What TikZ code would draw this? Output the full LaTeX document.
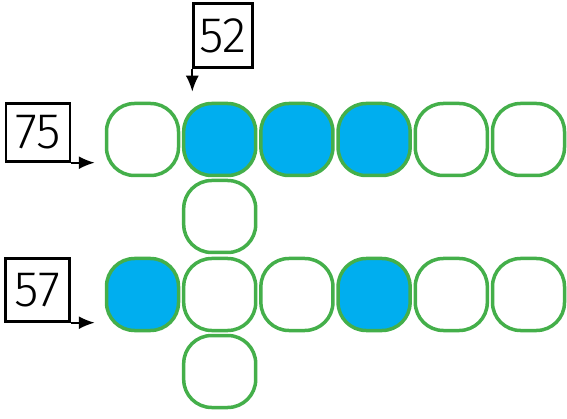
\documentclass[tikz,border=0pt]{standalone}
\usepackage{fontspec}
\setmainfont{Fira Sans Light}
\usetikzlibrary{arrows.meta}
\definecolor{cellgreen}{RGB}{68,175,74}
\definecolor{cellblue}{RGB}{0,174,239}
\tikzset{
  cell/.style={draw=cellgreen, line width=3.5pt, rounded corners=28pt, minimum width=72pt, minimum height=72pt, inner sep=0pt},
  filled/.style={cell, fill=cellblue},
  numbox/.style={draw=black, line width=2.4pt, inner sep=0pt, font=\fontsize{50}{50}\selectfont},
  arr/.style={draw=black, line width=2pt, -{Latex[length=16pt,width=13pt]}, shorten >=10pt}
}
\begin{document}
\begin{tikzpicture}[x=1pt,y=-1pt]
\useasboundingbox (0,0) rectangle (567,419);
% row 1
\node[cell]   (r1c1) at (142.5,139.5) {};
\node[filled] (r1c2) at (219.7,139.5) {};
\node[filled] (r1c3) at (296.9,139.5) {};
\node[filled] (r1c4) at (374.1,139.5) {};
\node[cell]   (r1c5) at (451.3,139.5) {};
\node[cell]   (r1c6) at (528.5,139.5) {};
\node[cell]   (m1)   at (219.7,216.5) {};
% row 2
\node[filled] (r2c1) at (142.5,294.5) {};
\node[cell]   (r2c2) at (219.7,294.5) {};
\node[cell]   (r2c3) at (296.9,294.5) {};
\node[filled] (r2c4) at (374.1,294.5) {};
\node[cell]   (r2c5) at (451.3,294.5) {};
\node[cell]   (r2c6) at (528.5,294.5) {};
\node[cell]   (m2)   at (219.7,371.5) {};
% number boxes
\node[numbox, minimum width=64pt, minimum height=58pt] (b75) at (38,132.5) {75};
\node[numbox, minimum width=64pt, minimum height=63pt] (b57) at (37.5,290) {57};
\node[numbox, minimum width=59pt, minimum height=64pt] (b52) at (223,35.5) {52};
% arrows
\draw[arr] (b75.south east) -- (b75.south east -| r1c1.west);
\draw[arr] (b57.south east) -- (b57.south east -| r2c1.west);
\draw[arr] (b52.south west) -- (b52.south west |- r1c2.north);
\end{tikzpicture}
\end{document}
